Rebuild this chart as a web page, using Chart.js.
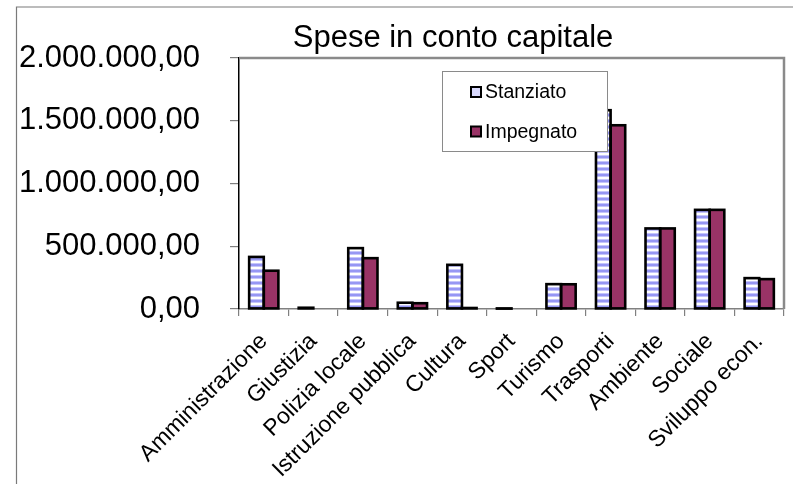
<!DOCTYPE html>
<html>
<head>
<meta charset="utf-8">
<script src="https://cdn.jsdelivr.net/npm/chart.js@4/dist/chart.umd.min.js"></script>
<style>
  html, body { margin: 0; padding: 0; background: #ffffff; }
  #wrap { width: 793px; height: 484px; position: relative; }
  canvas { display: block; }
</style>
</head>
<body>
<div id="wrap"><canvas id="c" width="793" height="484"></canvas></div>
<script>
// Capital expenditure by function: allocated vs committed
const categories = ['Amministrazione', 'Giustizia', 'Polizia locale', 'Istruzione pubblica', 'Cultura',
  'Sport', 'Turismo', 'Trasporti', 'Ambiente', 'Sociale', 'Sviluppo econ.'];
const stanziato = [415000, 10000, 485000, 50000, 352000, 3000, 198000, 1584000, 642000, 790000, 246000];
const impegnato = [305000, 0, 405000, 46000, 8000, 0, 197000, 1464000, 642000, 790000, 238000];
const yTicks = [0, 500000, 1000000, 1500000, 2000000];
const seriesNames = ['Stanziato', 'Impegnato'];
const chartTitle = 'Spese in conto capitale';

const FONT = "'Liberation Sans', Arial, Helvetica, sans-serif";
const PURPLE = '#993366';

// Italian number format: 1.500.000,00
function fmtIt(v) {
  const parts = Math.round(v).toString().replace(/\B(?=(\d{3})+(?!\d))/g, '.');
  return parts + ',00';
}

// Horizontal blue/white stripe fill
const ctx0 = document.getElementById('c').getContext('2d');
const stripes = ctx0.createPattern((() => {
  const p = document.createElement('canvas');
  p.width = 6; p.height = 6;
  const g = p.getContext('2d');
  const rows = ['#9696f4', '#9696f4', '#c4c4fa', '#ffffff', '#ffffff', '#c4c4fa'];
  rows.forEach((c, i) => { g.fillStyle = c; g.fillRect(0, i, 6, 1); });
  return p;
})(), 'repeat');

const decorations = {
  id: 'decorations',
  beforeDatasetsDraw(chart) {
    const { ctx, chartArea: a } = chart;
    ctx.save();
    // plot area frame (top and right edges)
    ctx.strokeStyle = '#8a8a8a';
    ctx.lineWidth = 2.5;
    ctx.beginPath();
    ctx.moveTo(a.left, a.top);
    ctx.lineTo(a.right, a.top);
    ctx.lineTo(a.right, a.bottom);
    ctx.stroke();
    ctx.restore();
  },
  afterDatasetsDraw(chart) {
    // bar outlines centred on the bar edges
    const { ctx } = chart;
    ctx.save();
    ctx.strokeStyle = '#000';
    ctx.lineWidth = 2.6;
    ctx.lineJoin = 'miter';
    chart.data.datasets.forEach((ds, i) => {
      const meta = chart.getDatasetMeta(i);
      meta.data.forEach((bar, j) => {
        if (!ds.data[j]) return;
        const { x, y, base, width } = bar.getProps(['x', 'y', 'base', 'width'], true);
        const top = Math.min(y, base);
        const h = Math.abs(base - y);
        ctx.strokeRect(x - width / 2, top, width, h);
      });
    });
    ctx.restore();
  },
  afterDraw(chart) {
    const { ctx } = chart;
    ctx.save();
    // outer chart frame
    ctx.strokeStyle = '#7a7a7a';
    ctx.lineWidth = 1.2;
    ctx.beginPath();
    ctx.moveTo(16.5, 500);
    ctx.lineTo(16.5, 7);
    ctx.lineTo(800, 7);
    ctx.stroke();

    // title
    ctx.fillStyle = '#000';
    ctx.font = '31px ' + FONT;
    ctx.textAlign = 'center';
    ctx.textBaseline = 'alphabetic';
    ctx.fillText(chartTitle, 453, 47);

    // legend box
    const lx = 442, ly = 71, lw = 165, lh = 80;
    ctx.fillStyle = '#ffffff';
    ctx.fillRect(lx, ly, lw, lh);
    ctx.strokeStyle = '#8a8a8a';
    ctx.lineWidth = 1;
    ctx.strokeRect(lx + 0.5, ly + 0.5, lw, lh);

    const items = [
      { label: seriesNames[0], y: 92, fill: '#d8d8fc' },
      { label: seriesNames[1], y: 131.5, fill: PURPLE }
    ];
    items.forEach(it => {
      ctx.fillStyle = it.fill;
      ctx.fillRect(471, it.y - 5, 10, 10);
      ctx.strokeStyle = '#000';
      ctx.lineWidth = 2;
      ctx.strokeRect(471, it.y - 5, 10, 10);
      ctx.fillStyle = '#000';
      ctx.font = '19.5px ' + FONT;
      ctx.textAlign = 'left';
      ctx.textBaseline = 'middle';
      ctx.fillText(it.label, 485, it.y + 1);
    });
    ctx.restore();
  }
};

new Chart(document.getElementById('c'), {
  type: 'bar',
  data: {
    labels: categories,
    datasets: [
      {
        label: seriesNames[0],
        data: stanziato,
        backgroundColor: stripes,
        borderWidth: 0
      },
      {
        label: seriesNames[1],
        data: impegnato,
        backgroundColor: PURPLE,
        borderWidth: 0
      }
    ]
  },
  options: {
    responsive: false,
    animation: false,
    devicePixelRatio: 1,
    layout: { padding: { top: 58, right: 9, left: 0, bottom: 0 } },
    categoryPercentage: 0.59,
    barPercentage: 1.0,
    plugins: {
      legend: { display: false },
      title: { display: false },
      tooltip: { enabled: false }
    },
    scales: {
      x: {
        grid: { offset: true, drawOnChartArea: false, drawTicks: true, tickLength: 7, color: '#808080', lineWidth: 1.2 },
        border: { display: true, color: '#808080', width: 1.5 },
        ticks: {
          autoSkip: false,
          maxRotation: 45,
          minRotation: 45,
          padding: 12,
          color: '#000',
          font: { family: FONT, size: 23 }
        },
        afterFit(scale) { scale.height = 175; }
      },
      y: {
        min: 0,
        max: 2000000,
        afterBuildTicks(scale) { scale.ticks = yTicks.map(v => ({ value: v })); },
        grid: { drawOnChartArea: false, drawTicks: true, tickLength: 9, color: '#808080', lineWidth: 1.2 },
        border: { display: true, color: '#000000', width: 1.5 },
        ticks: {
          padding: 30,
          color: '#000',
          font: { family: FONT, size: 31 },
          callback: v => fmtIt(v)
        },
        afterFit(scale) { scale.width = 239; }
      }
    }
  },
  plugins: [decorations]
});
</script>
</body>
</html>
